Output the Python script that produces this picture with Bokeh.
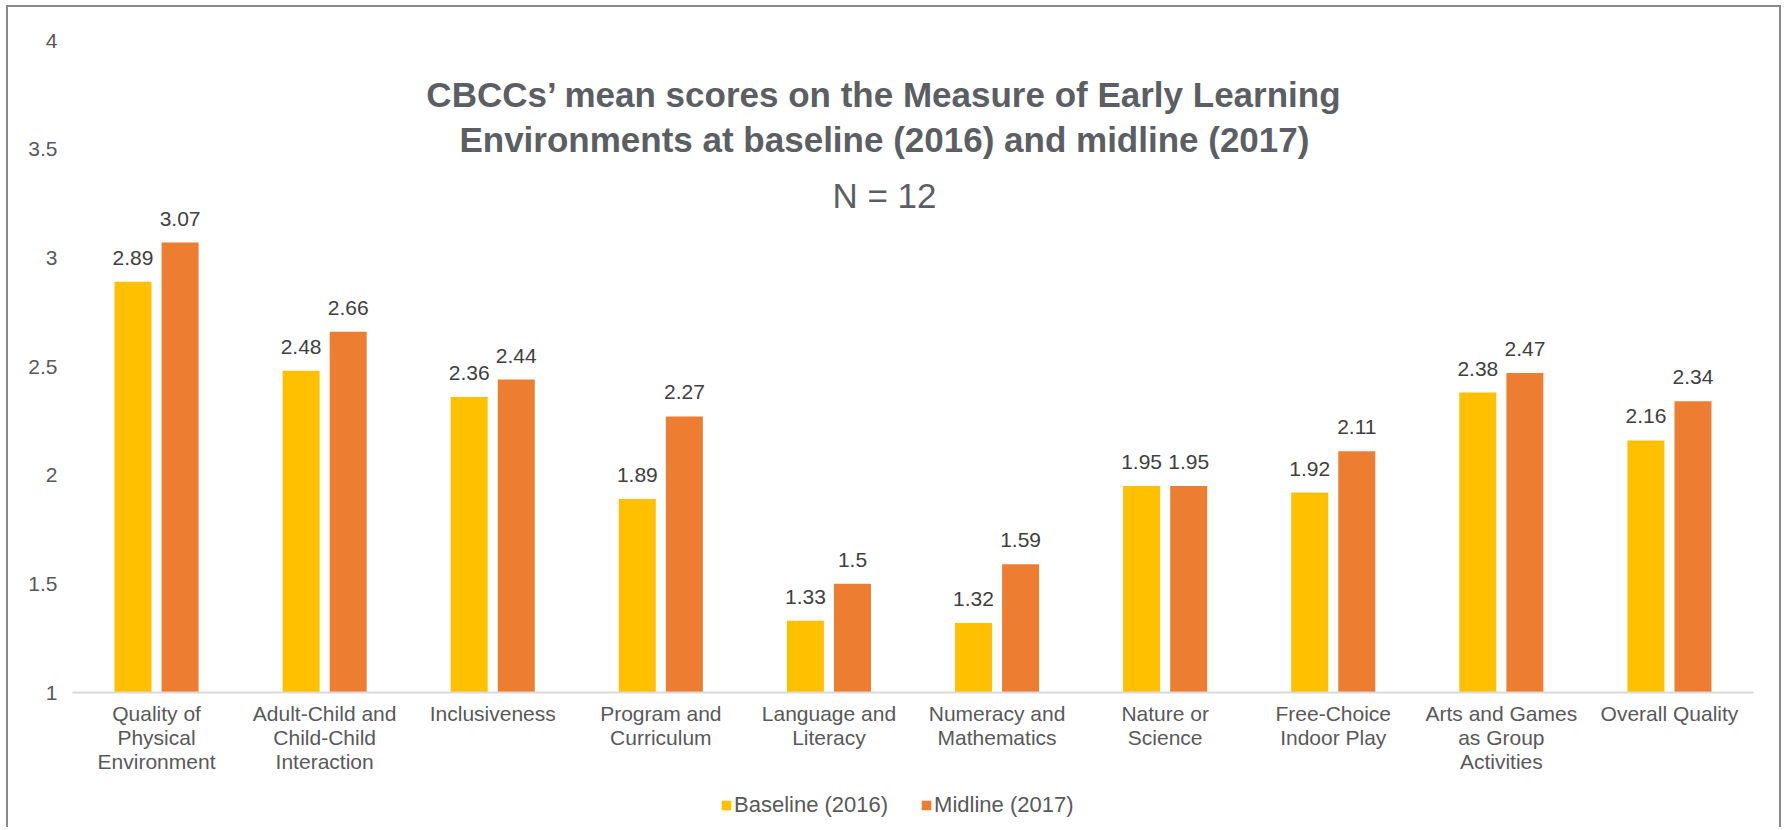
from bokeh.plotting import figure
from bokeh.layouts import column
from bokeh.models import (ColumnDataSource, FactorRange, Range1d, FixedTicker,
                          NumeralTickFormatter, Legend, LegendItem, Label)
from bokeh.transform import dodge
from bokeh.core.properties import value
from bokeh.embed import file_html
from bokeh.resources import INLINE

categories = [
    "Quality of\nPhysical\nEnvironment",
    "Adult-Child and\nChild-Child\nInteraction",
    "Inclusiveness",
    "Program and\nCurriculum",
    "Language and\nLiteracy",
    "Numeracy and\nMathematics",
    "Nature or\nScience",
    "Free-Choice\nIndoor Play",
    "Arts and Games\nas Group\nActivities",
    "Overall Quality",
]
baseline_2016 = [2.89, 2.48, 2.36, 1.89, 1.33, 1.32, 1.95, 1.92, 2.38, 2.16]
midline_2017 = [3.07, 2.66, 2.44, 2.27, 1.5, 1.59, 1.95, 2.11, 2.47, 2.34]
y_ticks = [1, 1.5, 2, 2.5, 3, 3.5, 4]
series_names = ["Baseline (2016)", "Midline (2017)"]
title_lines = ["CBCCs\u2019 mean scores on the Measure of Early Learning",
               "Environments at baseline (2016) and midline (2017)"]
subtitle = "N = 12"

FONT = "Liberation Sans"
C_BASE = "#FFC000"
C_MID = "#ED7D31"
W, H, HL = 1771, 775, 45

src = ColumnDataSource(dict(
    cat=categories,
    base=baseline_2016,
    mid=midline_2017,
    base_lbl=[f"{v:g}" for v in baseline_2016],
    mid_lbl=[f"{v:g}" for v in midline_2017],
))

p = figure(
    x_range=FactorRange(factors=categories, range_padding=0),
    y_range=Range1d(y_ticks[0], y_ticks[-1]),
    width=W, height=H,
    output_backend="svg", toolbar_location=None,
    min_border_left=64, min_border_right=26, min_border_top=33, min_border_bottom=90,
)
p.outline_line_color = None
p.xgrid.grid_line_color = None
p.ygrid.grid_line_color = None
p.background_fill_color = "white"
p.border_fill_color = "white"

off = 0.14
bw = 0.22
r1 = p.vbar(x=dodge("cat", -off, range=p.x_range), top="base", bottom=y_ticks[0],
            width=bw, source=src, fill_color=C_BASE, line_color=None)
r2 = p.vbar(x=dodge("cat", off, range=p.x_range), top="mid", bottom=y_ticks[0],
            width=bw, source=src, fill_color=C_MID, line_color=None)

for col, lbl, dx in (("base", "base_lbl", -off), ("mid", "mid_lbl", off)):
    p.text(x=dodge("cat", dx, range=p.x_range), y=col, text=lbl, source=src,
           text_align="center", text_baseline="middle", y_offset=-24,
           text_font=value(FONT), text_font_size="21px", text_color="#404040")

# axes
p.yaxis.ticker = FixedTicker(ticks=y_ticks)
p.yaxis.formatter = NumeralTickFormatter(format="0.[0]")
p.yaxis.axis_line_color = None
p.yaxis.major_tick_line_color = None
p.yaxis.minor_tick_line_color = None
p.yaxis.major_tick_out = 0
p.yaxis.major_tick_in = 0
p.yaxis.minor_tick_out = 0
p.yaxis.major_label_standoff = 15
p.yaxis.major_label_text_font = FONT
p.yaxis.major_label_text_font_size = "21px"
p.yaxis.major_label_text_color = "#595959"

p.xaxis.axis_line_color = "#d9d9d9"
p.xaxis.axis_line_width = 2
p.xaxis.major_tick_line_color = None
p.xaxis.minor_tick_line_color = None
p.xaxis.major_tick_out = 0
p.xaxis.major_tick_in = 0
p.xaxis.minor_tick_out = 0
p.xaxis.major_label_standoff = 9
p.xaxis.major_label_text_font = FONT
p.xaxis.major_label_text_font_size = "21px"
p.xaxis.major_label_text_color = "#595959"
p.xaxis.major_label_text_line_height = 1.05

# titles
tx = 4.83
p.add_layout(Label(x=tx, y=3.75, text=title_lines[0], text_align="center",
                   text_baseline="middle", text_font=FONT, text_font_size="35px",
                   text_font_style="bold", text_color="#5b5f64"))
p.add_layout(Label(x=tx, y=3.543, text=title_lines[1], text_align="center",
                   text_baseline="middle", text_font=FONT, text_font_size="35px",
                   text_font_style="bold", text_color="#5b5f64"))
p.add_layout(Label(x=tx, y=3.287, text=subtitle, text_align="center",
                   text_baseline="middle", text_font=FONT, text_font_size="35px",
                   text_color="#5b5f64"))

# legend strip below the chart (legend keys only; zero-height key bars)
pl = figure(width=W, height=HL, output_backend="svg", toolbar_location=None,
            x_axis_location=None, y_axis_location=None, min_border=0)
pl.outline_line_color = None
pl.grid.visible = False
k1 = pl.vbar(x=[0], top=[0], bottom=[0], width=0.5, fill_color=C_BASE, line_color=None)
k2 = pl.vbar(x=[0], top=[0], bottom=[0], width=0.5, fill_color=C_MID, line_color=None)
legend = Legend(
    items=[LegendItem(label=series_names[0], renderers=[k1]),
           LegendItem(label=series_names[1], renderers=[k2])],
    orientation="horizontal", location=(648, 9),
    glyph_width=12, glyph_height=12, label_standoff=2, spacing=32,
    padding=0, margin=0, border_line_color=None, background_fill_alpha=0,
    label_text_font=FONT, label_text_font_size="22px", label_text_color="#595959",
)
pl.add_layout(legend)

layout = column(p, pl, spacing=0, styles={
    "margin-left": "6px",
    "margin-top": "5px",
    "border-top": "2px solid #8a8a8a",
    "border-left": "2px solid #8a8a8a",
    "border-right": "2px solid #8a8a8a",
})

open("out.html", "w").write(file_html(layout, INLINE))
